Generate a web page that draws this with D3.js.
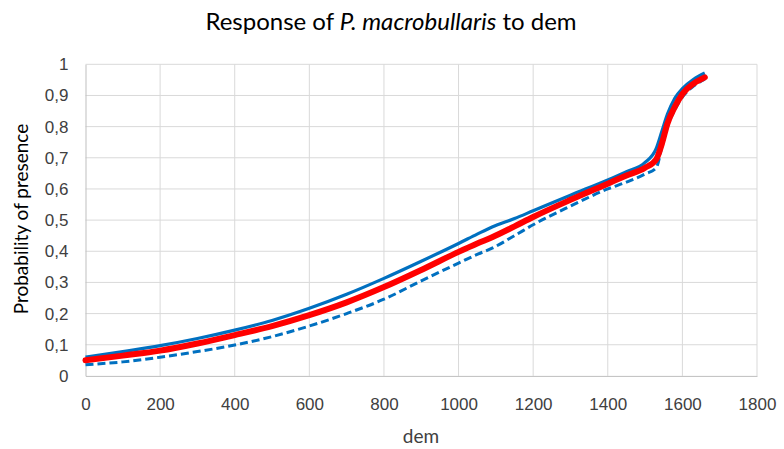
<!DOCTYPE html>
<html>
<head>
<meta charset="utf-8">
<script src="https://cdn.jsdelivr.net/npm/d3@7"></script>
<style>
  body { margin: 0; background: #fff; }
  svg { display: block; font-family: Lato, "Open Sans", sans-serif; }
</style>
</head>
<body>
<svg id="chart" width="784" height="449"></svg>
<script>
const dem   = [0,100,200,300,400,500,600,700,800,900,1000,1050,1090,1150,1200,1300,1400,1450,1500,1530,1545,1560,1580,1600,1630,1660];
const mean  = [0.050,0.065,0.081,0.104,0.131,0.160,0.195,0.236,0.285,0.340,0.398,0.425,0.445,0.480,0.510,0.565,0.617,0.643,0.668,0.695,0.745,0.810,0.864,0.905,0.938,0.958];
const upper = [0.060,0.078,0.097,0.120,0.147,0.178,0.217,0.262,0.313,0.368,0.425,0.455,0.478,0.505,0.530,0.580,0.629,0.655,0.685,0.730,0.785,0.840,0.892,0.922,0.952,0.972];
const lower = [0.036,0.045,0.060,0.078,0.099,0.126,0.160,0.200,0.246,0.305,0.362,0.390,0.410,0.450,0.485,0.545,0.600,0.622,0.648,0.668,0.735,0.800,0.855,0.895,0.930,0.952];
const xTicks = [0,200,400,600,800,1000,1200,1400,1600,1800];
const yTicks = [0,0.1,0.2,0.3,0.4,0.5,0.6,0.7,0.8,0.9,1];

const svg = d3.select("#chart");
const x = d3.scaleLinear().domain([0,1800]).range([85.5,757]);
const y = d3.scaleLinear().domain([0,1]).range([375.9,64.3]);

// gridlines
svg.append("g").selectAll("line.h").data(yTicks.filter(d=>d>0)).join("line")
  .attr("x1",x(0)).attr("x2",x(1800)).attr("y1",d=>y(d)).attr("y2",d=>y(d))
  .attr("stroke","#d9d9d9").attr("stroke-width",1);
svg.append("g").selectAll("line.v").data(xTicks.filter(d=>d>0)).join("line")
  .attr("y1",y(0)).attr("y2",y(1)).attr("x1",d=>x(d)).attr("x2",d=>x(d))
  .attr("stroke","#d9d9d9").attr("stroke-width",1);

// axes
const fmt = d3.format(".1f");
const yAxis = d3.axisLeft(y).tickValues(yTicks).tickSize(0).tickPadding(17)
  .tickFormat(d => d===0 ? "0" : d===1 ? "1" : fmt(d).replace(".",","));
const gy = svg.append("g").attr("transform",`translate(${x(0)},0)`).call(yAxis);
gy.select(".domain").attr("stroke","#bfbfbf");
gy.selectAll("text").attr("font-size",17).attr("fill","#404040");

const xAxis = d3.axisBottom(x).tickValues(xTicks).tickSize(0).tickPadding(22).tickFormat(d3.format("d"));
const gx = svg.append("g").attr("transform",`translate(0,${y(0)})`).call(xAxis);
gx.select(".domain").attr("stroke","#bfbfbf");
gx.selectAll("text").attr("font-size",17).attr("fill","#404040");

// lines
const pts = arr => dem.map((d,i)=>[d,arr[i]]);
const line = d3.line().x(d=>x(d[0])).y(d=>y(d[1])).curve(d3.curveMonotoneX);
svg.append("path").attr("d",line(pts(lower))).attr("fill","none")
  .attr("stroke","#0070c0").attr("stroke-width",3).attr("stroke-dasharray","8,4");
svg.append("path").attr("d",line(pts(upper))).attr("fill","none")
  .attr("stroke","#0070c0").attr("stroke-width",3.2);
svg.append("path").attr("d",line(pts(mean))).attr("fill","none")
  .attr("stroke","#ff0000").attr("stroke-width",6).attr("stroke-linecap","round");

// titles
const t = svg.append("text").attr("x",391).attr("y",30).attr("text-anchor","middle")
  .attr("font-size",24).attr("fill","#000");
t.append("tspan").text("Response of ");
t.append("tspan").attr("font-style","italic").text("P. macrobullaris");
t.append("tspan").text(" to dem");

svg.append("text").attr("x",421).attr("y",443).attr("text-anchor","middle")
  .attr("font-size",19).attr("fill","#404040").text("dem");
svg.append("text").attr("transform","translate(28,219) rotate(-90)").attr("text-anchor","middle")
  .attr("font-size",19).attr("fill","#000").text("Probability of presence");
</script>
</body>
</html>
